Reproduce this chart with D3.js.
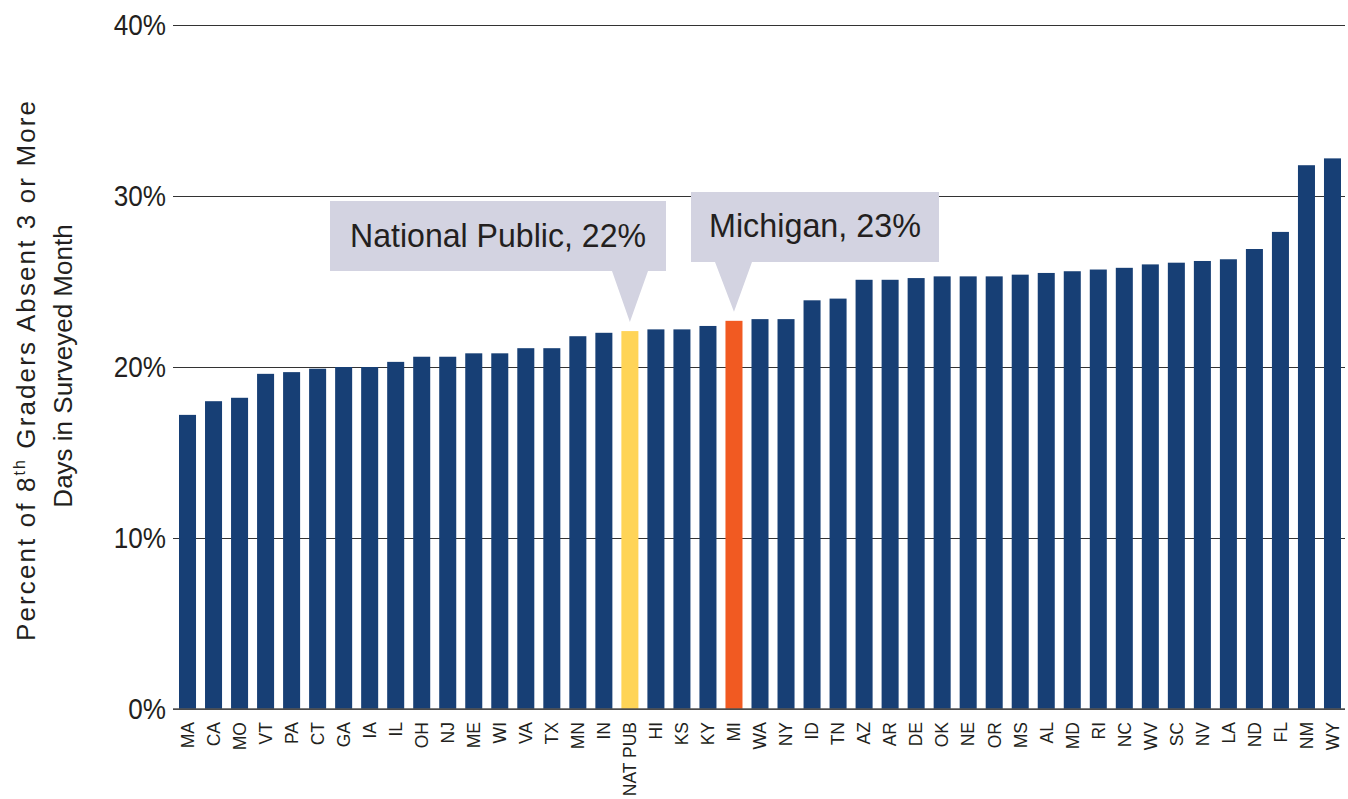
<!DOCTYPE html>
<html>
<head>
<meta charset="utf-8">
<script src="https://cdn.jsdelivr.net/npm/d3@7"></script>
<style>
  html, body { margin: 0; padding: 0; background: #ffffff; }
  svg { display: block; }
</style>
</head>
<body>
<svg id="chart" width="1348" height="799"></svg>
<script>
const states = ["MA","CA","MO","VT","PA","CT","GA","IA","IL","OH","NJ","ME","WI","VA","TX","MN","IN","NAT PUB","HI","KS","KY","MI","WA","NY","ID","TN","AZ","AR","DE","OK","NE","OR","MS","AL","MD","RI","NC","WV","SC","NV","LA","ND","FL","NM","WY"];
const values = [17.2,18.0,18.2,19.6,19.7,19.9,20.0,20.0,20.3,20.6,20.6,20.8,20.8,21.1,21.1,21.8,22.0,22.1,22.2,22.2,22.4,22.7,22.8,22.8,23.9,24.0,25.1,25.1,25.2,25.3,25.3,25.3,25.4,25.5,25.6,25.7,25.8,26.0,26.1,26.2,26.3,26.9,27.9,31.8,32.2];
const yTicks = [0, 10, 20, 30, 40];
const tickLabels = ["0%", "10%", "20%", "30%", "40%"];
const callouts = [
  { key: "NAT PUB", text: "National Public, 22%" },
  { key: "MI", text: "Michigan, 23%" }
];
const yTitleLine1 = ["Percent of 8", "th", " Graders Absent 3 or More"];
const yTitleLine2 = "Days in Surveyed Month";

const colors = { base: "#173f75", nat: "#ffd457", mi: "#f15a22", callout: "#d3d3e1", grid: "#333333", text: "#231f20" };
const condensed = "'Liberation Sans', Arial, sans-serif";

const svg = d3.select("#chart");
const plotLeft = 174.5, plotRight = 1345.5, plotTop = 25, plotBottom = 709;

const x = d3.scaleBand().domain(states).range([plotLeft, plotRight]).paddingInner(0.346).paddingOuter(0.173);
const y = d3.scaleLinear().domain([0, 40]).range([plotBottom, plotTop]);

function squeeze(sel, f) {
  sel.each(function () {
    const len = this.getComputedTextLength();
    d3.select(this).attr("textLength", len * f).attr("lengthAdjust", "spacingAndGlyphs");
  });
}

// gridlines + y tick labels
const yAxis = d3.axisLeft(y).tickValues(yTicks).tickSize(-(1345 - 173)).tickFormat((d, i) => tickLabels[i]).tickPadding(8);
const gAxis = svg.append("g").attr("transform", `translate(173,0)`).call(yAxis);
gAxis.select(".domain").remove();
gAxis.selectAll(".tick line").attr("stroke", colors.grid).attr("stroke-width", 1.2);
gAxis.selectAll(".tick text")
  .attr("x", -7)
  .attr("dy", "0.33em")
  .attr("fill", colors.text)
  .style("font-family", condensed)
  .style("font-size", "30px")
  .call(squeeze, 0.87);

// bars
svg.append("g").selectAll("rect").data(states).join("rect")
  .attr("x", d => x(d))
  .attr("width", x.bandwidth())
  .attr("y", (d, i) => y(values[i]))
  .attr("height", (d, i) => y(0) - y(values[i]))
  .attr("fill", d => d === "NAT PUB" ? colors.nat : (d === "MI" ? colors.mi : colors.base));

// baseline
svg.append("line").attr("x1", 173).attr("x2", 1345).attr("y1", y(0)).attr("y2", y(0))
  .attr("stroke", "#555").attr("stroke-width", 1.4);

// x labels
const xAxis = d3.axisBottom(x).tickSize(0).tickPadding(0);
const gx = svg.append("g").attr("transform", `translate(0,${y(0)})`).call(xAxis);
gx.select(".domain").remove();
gx.selectAll(".tick text")
  .attr("transform", "rotate(-90)")
  .attr("x", -13)
  .attr("y", 0)
  .attr("dy", "0.36em")
  .attr("text-anchor", "end")
  .attr("fill", colors.text)
  .style("font-family", "'Liberation Sans', Arial, sans-serif")
  .style("font-size", "17.5px");

// callouts
const calloutBoxes = [
  { x0: 330, x1: 666, y0: 201, y1: 271, tipBase: [612, 648], w: 296, dy: 11 },
  { x0: 691, x1: 939, y0: 192, y1: 262, tipBase: [715, 752], w: 212, dy: 10 }
];
callouts.forEach((c, k) => {
  const i = states.indexOf(c.key);
  const b = calloutBoxes[k];
  const cx = x(c.key) + x.bandwidth() / 2;
  const tipY = y(values[i]) - 9;
  const g = svg.append("g");
  g.append("path")
    .attr("d", `M${b.x0},${b.y0}H${b.x1}V${b.y1}H${b.tipBase[1]}L${cx},${tipY}L${b.tipBase[0]},${b.y1}H${b.x0}Z`)
    .attr("fill", colors.callout);
  g.append("text")
    .attr("x", (b.x0 + b.x1) / 2)
    .attr("y", (b.y0 + b.y1) / 2 + b.dy)
    .attr("text-anchor", "middle")
    .attr("fill", colors.text)
    .style("font-family", condensed)
    .style("font-size", "33px")
    .attr("textLength", b.w)
    .attr("lengthAdjust", "spacingAndGlyphs")
    .text(c.text);
});

// y title
const tg = svg.append("g").attr("transform", "translate(0,371) rotate(-90)");
const t1 = tg.append("text").attr("x", 0).attr("y", 35).attr("text-anchor", "middle")
  .attr("fill", colors.text)
  .attr("textLength", 540).attr("lengthAdjust", "spacing")
  .style("font-family", "'Liberation Sans', Arial, sans-serif").style("font-size", "26px");
t1.append("tspan").text(yTitleLine1[0]);
t1.append("tspan").attr("dy", -10).style("font-size", "16px").text(yTitleLine1[1]);
t1.append("tspan").attr("dy", 10).text(yTitleLine1[2]);
tg.append("text").attr("x", 5).attr("y", 72).attr("text-anchor", "middle")
  .attr("fill", colors.text)
  .style("font-family", "'Liberation Sans', Arial, sans-serif").style("font-size", "26px")
  .text(yTitleLine2);
</script>
</body>
</html>
